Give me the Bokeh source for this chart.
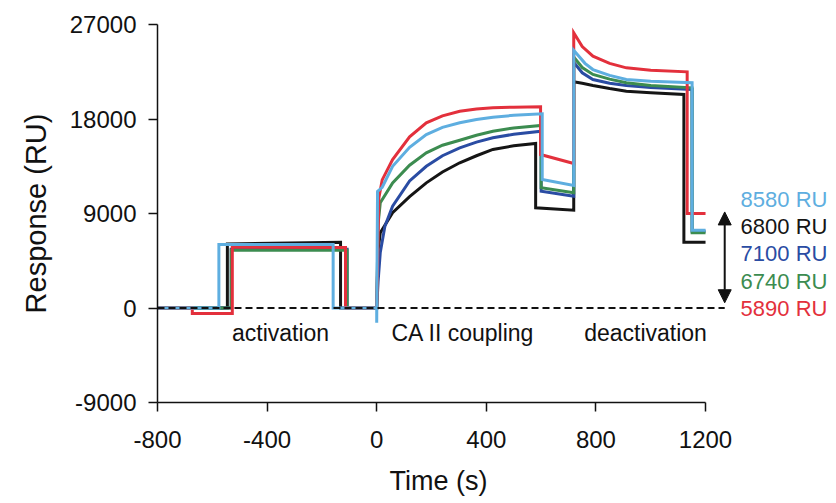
from bokeh.plotting import figure
from bokeh.models import Range1d, FixedTicker, ColumnDataSource, Arrow, NormalHead, Title
from bokeh.core.properties import value
from bokeh.embed import file_html
from bokeh.resources import INLINE

FONT = "Liberation Sans"

# ---- data (time in s, response in RU) ----
lb_t = [-800, -576, -576, -159, -159, 0, 0, 3, 20, 58, 120, 181, 240, 303, 364, 424, 500, 604,
        604, 719, 719, 760, 789, 850, 911, 1000, 1151, 1151, 1200]
lb_y = [0, 0, 6050, 6050, 0, 0, -1400, 11100, 11500, 13500, 15300, 16520, 17200, 17640, 17950,
        18170, 18350, 18500, 12240, 11670, 24550, 23300, 22710, 22150, 21760, 21600, 21450, 7410, 7410]

k_t = [-800, -545, -545, -132, -132, 0, 0, 5, 13, 58, 120, 181, 240, 303, 364, 424, 500, 580,
       580, 719, 719, 750, 789, 850, 911, 1000, 1121, 1121, 1200]
k_y = [0, 0, 6100, 6270, 0, 0, 0, 5500, 7160, 9070, 10600, 11920, 12950, 13830, 14500, 15100,
       15450, 15670, 9540, 9310, 21550, 21400, 21190, 20900, 20650, 20500, 20330, 6270, 6270]

b_t = [-800, -531, -531, -108, -108, 0, 0, 5, 13, 30, 58, 120, 181, 240, 303, 364, 424, 500, 600,
       600, 719, 719, 750, 789, 850, 911, 1000, 1151, 1151, 1200]
b_y = [0, 0, 5600, 5600, 0, 0, 0, 2500, 5290, 7800, 9700, 12100, 13500, 14500, 15260, 15800,
       16210, 16550, 16840, 11120, 10650, 23400, 22400, 21760, 21400, 21190, 21000, 20810, 7300, 7300]

g_t = [-800, -531, -531, -108, -108, 0, 0, 5, 13, 58, 120, 181, 240, 303, 364, 424, 500, 600,
       600, 719, 719, 750, 789, 850, 911, 1000, 1151, 1151, 1200]
g_y = [0, 0, 5500, 5500, 0, 0, 0, 8000, 10020, 11920, 13600, 14780, 15500, 15980, 16450, 16840,
       17150, 17380, 11450, 10970, 23910, 22900, 22240, 21800, 21450, 21200, 20970, 7160, 7160]

r_t = [-800, -673, -673, -527, -527, -114, -114, 0, 0, 8, 20, 58, 120, 181, 240, 303, 364, 424,
       500, 598, 598, 719, 719, 750, 789, 850, 911, 1000, 1133, 1133, 1200]
r_y = [0, 0, -520, -520, 5800, 5760, 0, 0, 0, 10500, 12200, 14140, 16300, 17640, 18300, 18740,
       18950, 19070, 19130, 19160, 14620, 13760, 26210, 24900, 23980, 23300, 22870, 22650, 22490, 9000, 9000]

series_colors = {"black": "#151515", "blue": "#2a4ca3", "green": "#3c8c50",
                 "red": "#e3303c", "lightblue": "#5eaee0"}

phase_labels = ["activation", "CA II coupling", "deactivation"]
phase_x = [-351, 315, 981]
phase_y = [-2400, -2400, -2400]

ru_labels = ["8580 RU", "6800 RU", "7100 RU", "6740 RU", "5890 RU"]
ru_colors = ["#5eaee0", "#151515", "#2a4ca3", "#3c8c50", "#e3303c"]
ru_x = [1328, 1328, 1328, 1328, 1328]
ru_y = [10350, 7750, 5150, 2550, 0]

x_ticks = [-800, -400, 0, 400, 800, 1200]
y_ticks = [-9000, 0, 9000, 18000, 27000]

# ---- figure ----
p = figure(frame_width=676, frame_height=378,
           x_range=Range1d(-800, 1667), y_range=Range1d(-9000, 27000),
           output_backend="svg", toolbar_location=None,
           min_border_left=157, min_border_top=24, min_border_right=0, min_border_bottom=100)
p.outline_line_color = None
p.xgrid.visible = False
p.ygrid.visible = False
p.background_fill_color = "white"

for ax, ticks in ((p.xaxis[0], x_ticks), (p.yaxis[0], y_ticks)):
    ax.ticker = FixedTicker(ticks=ticks)
    ax.bounds = (ticks[0], ticks[-1])
    ax.major_label_overrides = {t: str(t) for t in ticks}
    ax.axis_line_width = 1.5
    ax.axis_line_color = "#111111"
    ax.major_tick_line_width = 1.5
    ax.major_tick_line_color = "#111111"
    ax.major_tick_out = 9
    ax.major_tick_in = 0
    ax.minor_tick_line_color = None
    ax.major_label_text_font = FONT
    ax.major_label_text_font_size = "24px"
    ax.major_label_text_color = "#111111"

p.xaxis.major_label_standoff = 19
p.yaxis.major_label_standoff = 12

p.add_layout(Title(text="Time (s)", align="left", offset=232, standoff=26,
                   text_font=FONT, text_font_size="27px", text_font_style="normal",
                   text_color="#111111"), "below")
p.add_layout(Title(text="Response (RU)", align="center", offset=-39, standoff=29,
                   text_font=FONT, text_font_size="29px", text_font_style="normal",
                   text_color="#111111"), "left")

for t, y, c in ((k_t, k_y, "black"), (b_t, b_y, "blue"), (g_t, g_y, "green"),
                (r_t, r_y, "red"), (lb_t, lb_y, "lightblue")):
    p.line(t, y, line_color=series_colors[c], line_width=3, line_join="miter")

# zero baseline (dashed)
p.line([-800, 1270], [0, 0], line_color="#111111", line_width=2, line_dash="7 4")

# double arrow
p.add_layout(Arrow(start=NormalHead(size=13, fill_color="#111111", line_color="#111111"),
                   end=NormalHead(size=13, fill_color="#111111", line_color="#111111"),
                   x_start=1270, y_start=500, x_end=1270, y_end=9150,
                   line_width=2, line_color="#111111"))

src_phase = ColumnDataSource(dict(x=phase_x, y=phase_y, text=phase_labels))
p.text(x="x", y="y", text="text", source=src_phase, text_font=value(FONT),
       text_font_size="23px", text_align="center", text_baseline="middle", text_color="#111111")

src_ru = ColumnDataSource(dict(x=ru_x, y=ru_y, text=ru_labels, color=ru_colors))
p.text(x="x", y="y", text="text", source=src_ru, text_font=value(FONT),
       text_font_size="22px", text_align="left", text_baseline="middle", text_color="color")

open("out.html", "w").write(file_html(p, INLINE))
